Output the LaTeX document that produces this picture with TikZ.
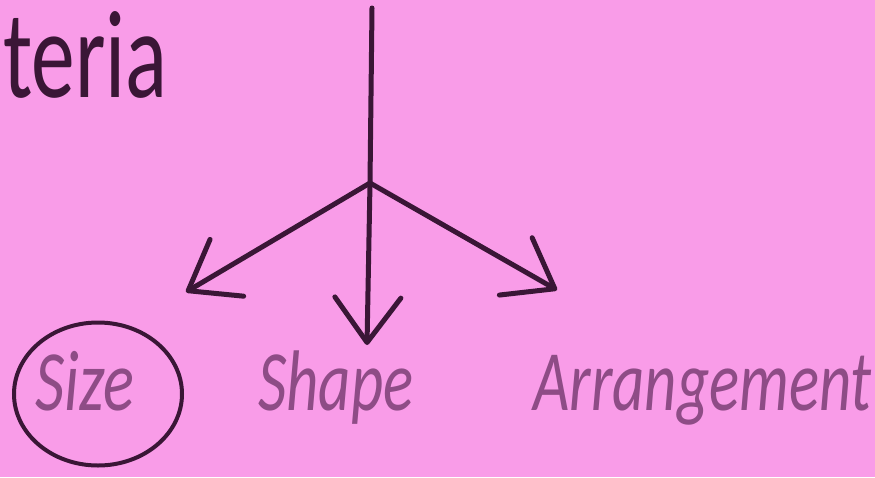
\documentclass[tikz,border=0pt]{standalone}
\usepackage{fontspec}
\setmainfont{Carlito}
\usetikzlibrary{arrows.meta,shapes.geometric}
\definecolor{bg}{HTML}{F99CE8}
\definecolor{ink}{HTML}{3A1636}
\definecolor{lab}{HTML}{8E4C86}
\begin{document}
\begin{tikzpicture}[x=1pt,y=-1pt,
  conn/.style={draw=ink, line width=5pt, line cap=round, line join=round},
  tipstyle/.style={-{Straight Barb[round,length=45pt,width=66pt]}},
  lbl/.style={text=lab, font=\fontsize{86}{90}\selectfont\itshape, inner sep=0pt, anchor=base west},
  ring/.style={ellipse, draw=ink, line width=4pt, minimum width=168pt, minimum height=143pt, inner sep=0pt}]
\path[fill=bg] (0,0) rectangle (875,477);
\useasboundingbox (0,0) rectangle (875,477);
\node[anchor=base west, inner sep=0pt, text=ink, font=\fontsize{125}{128}\selectfont] (title) at (3,97) {\scalebox{0.7}[1]{teria}};
\coordinate (top) at (372,8);
\coordinate (j) at (370,183);
\coordinate (lt) at (186,292);
\coordinate (dt) at (367,345);
\coordinate (rt) at (557,290);
\draw[conn] (top) -- (j);
\draw[conn, tipstyle] (j) -- (lt);
\draw[conn, tipstyle] (j) -- (dt);
\draw[conn, tipstyle] (j) -- (rt);
\node[ring] (sizering) at (98,394) {};
\node[lbl] (size) at (35,410) {\scalebox{0.75}[1]{Size}};
\node[lbl] (shape) at (258,410) {\scalebox{0.73}[1]{Shape}};
\node[lbl] (arr) at (533,410) {\scalebox{0.73}[1]{Arrangement}};
\end{tikzpicture}
\end{document}
